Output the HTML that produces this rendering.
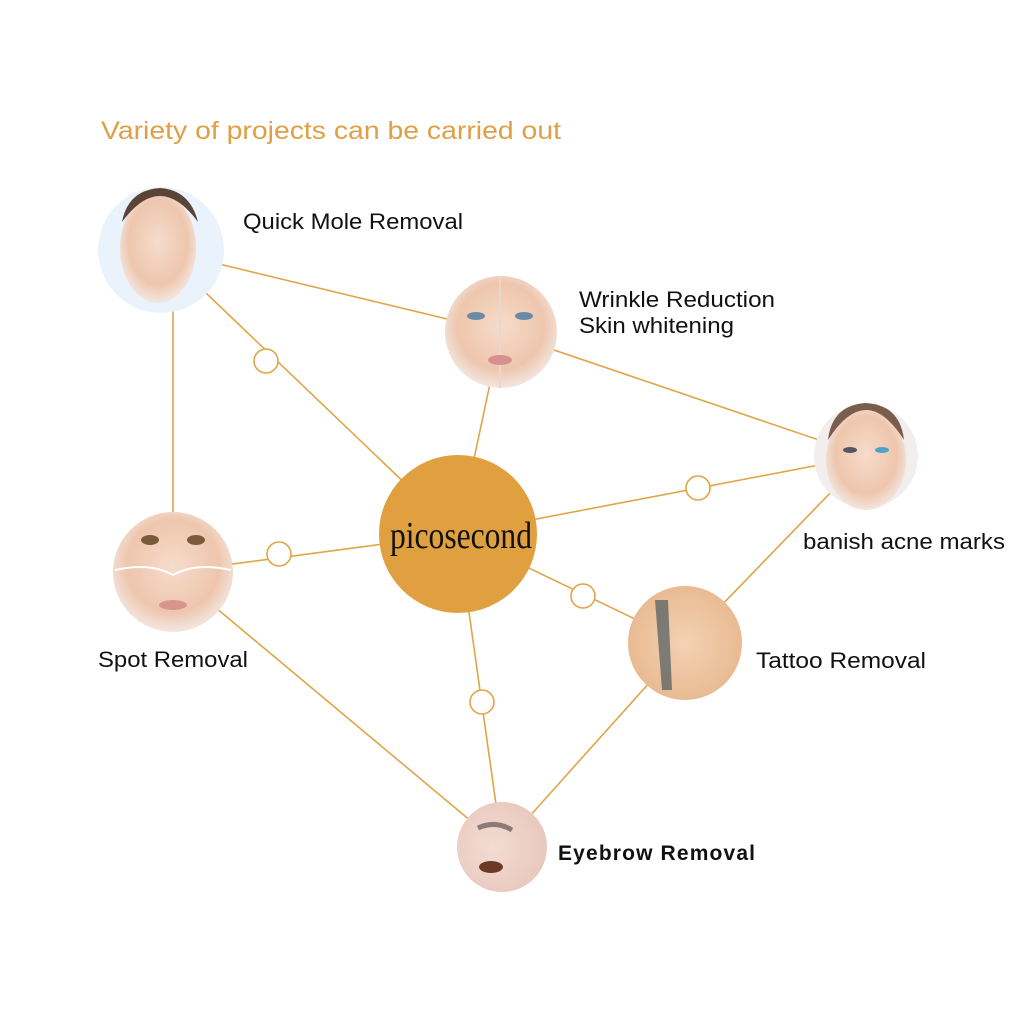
<!DOCTYPE html>
<html><head><meta charset="utf-8"><style>
html,body{margin:0;padding:0;background:#fff}
svg{display:block}
</style></head><body>
<svg width="1024" height="1024" viewBox="0 0 1024 1024" xmlns="http://www.w3.org/2000/svg" style="font-family:'Liberation Sans',sans-serif">
<defs>
<radialGradient id="sk" cx="50%" cy="45%" r="55%"><stop offset="0" stop-color="#f6dccb"/><stop offset="0.7" stop-color="#eec6ad"/><stop offset="1" stop-color="#f3e6e0"/></radialGradient>
<radialGradient id="sk2" cx="50%" cy="50%" r="55%"><stop offset="0" stop-color="#f3d2b4"/><stop offset="1" stop-color="#e8b88f"/></radialGradient>
<radialGradient id="sk3" cx="40%" cy="50%" r="60%"><stop offset="0" stop-color="#f3dcd3"/><stop offset="1" stop-color="#e8c8bd"/></radialGradient>
</defs>
<text x="101" y="139" font-size="25" fill="#df9f45" textLength="460" lengthAdjust="spacingAndGlyphs">Variety of projects can be carried out</text>
<g stroke="#e0a548" stroke-width="1.6" fill="none">
<line x1="161" y1="250" x2="501" y2="332"/>
<line x1="161" y1="250" x2="458" y2="534"/>
<line x1="173" y1="300" x2="173" y2="572"/>
<line x1="501" y1="332" x2="458" y2="534"/>
<line x1="501" y1="332" x2="866" y2="456"/>
<line x1="458" y1="534" x2="866" y2="456"/>
<line x1="866" y1="456" x2="685" y2="643"/>
<line x1="458" y1="534" x2="173" y2="572"/>
<line x1="458" y1="534" x2="685" y2="643"/>
<line x1="458" y1="534" x2="502" y2="847"/>
<line x1="173" y1="572" x2="502" y2="847"/>
<line x1="685" y1="643" x2="502" y2="847"/>
</g>
<circle cx="458" cy="534" r="79" fill="#e0a040"/>
<text x="390" y="548" style="font-family:'Liberation Serif',serif" font-size="38" fill="#111" textLength="142" lengthAdjust="spacingAndGlyphs">picosecond</text>
<g fill="#fff" stroke="#e0a548" stroke-width="1.6">
<circle cx="266" cy="361" r="12"/>
<circle cx="698" cy="488" r="12"/>
<circle cx="279" cy="554" r="12"/>
<circle cx="583" cy="596" r="12"/>
<circle cx="482" cy="702" r="12"/>
</g>
<circle cx="161" cy="250" r="63" fill="#eaf3fb"/>
<ellipse cx="158" cy="248" rx="38" ry="55" fill="url(#sk)"/>
<path d="M122 222 Q160 170 198 222 Q190 190 160 188 Q128 190 122 222Z" fill="#5a4438"/>
<circle cx="501" cy="332" r="56" fill="url(#sk)"/>
<path d="M500 276 L500 388" stroke="#e9d6cc" stroke-width="2"/>
<ellipse cx="476" cy="316" rx="9" ry="4" fill="#6d8aa5"/><ellipse cx="524" cy="316" rx="9" ry="4" fill="#6d8aa5"/>
<ellipse cx="500" cy="360" rx="12" ry="5" fill="#d98e90"/>
<circle cx="866" cy="456" r="52" fill="#f2eeee"/>
<ellipse cx="866" cy="460" rx="40" ry="50" fill="url(#sk)"/>
<path d="M828 440 Q866 380 904 440 Q900 405 866 403 Q832 405 828 440Z" fill="#7a5d4a"/>
<ellipse cx="850" cy="450" rx="7" ry="3" fill="#556"/><ellipse cx="882" cy="450" rx="7" ry="3" fill="#4aa5c8"/>
<circle cx="173" cy="572" r="60" fill="url(#sk)"/>
<ellipse cx="150" cy="540" rx="9" ry="5" fill="#7b5a3c"/><ellipse cx="196" cy="540" rx="9" ry="5" fill="#7b5a3c"/>
<path d="M115 570 Q150 562 173 575 Q196 562 231 570" stroke="#fff" stroke-width="2" fill="none"/>
<ellipse cx="173" cy="605" rx="14" ry="5" fill="#d9958c"/>
<circle cx="685" cy="643" r="57" fill="url(#sk2)"/>
<path d="M655 600 L668 600 L672 690 L662 690Z" fill="#4b5a60" opacity="0.7"/>
<circle cx="502" cy="847" r="45" fill="url(#sk3)"/>
<path d="M478 828 Q495 820 512 830" stroke="#8a7a78" stroke-width="5" fill="none"/>
<ellipse cx="491" cy="867" rx="12" ry="6" fill="#6a3a25"/>
<text x="243" y="229" font-size="22" fill="#111" textLength="220" lengthAdjust="spacingAndGlyphs">Quick Mole Removal</text>
<text x="579" y="307" font-size="22" fill="#111" textLength="196" lengthAdjust="spacingAndGlyphs">Wrinkle Reduction</text>
<text x="579" y="333" font-size="22" fill="#111" textLength="155" lengthAdjust="spacingAndGlyphs">Skin whitening</text>
<text x="803" y="549" font-size="22" fill="#111" textLength="202" lengthAdjust="spacingAndGlyphs">banish acne marks</text>
<text x="98" y="667" font-size="22" fill="#111" textLength="150" lengthAdjust="spacingAndGlyphs">Spot Removal</text>
<text x="756" y="668" font-size="22" fill="#111" textLength="170" lengthAdjust="spacingAndGlyphs">Tattoo Removal</text>
<text x="558" y="860" font-size="21" font-weight="bold" fill="#111" textLength="197" lengthAdjust="spacing">Eyebrow Removal</text>
</svg>
</body></html>
